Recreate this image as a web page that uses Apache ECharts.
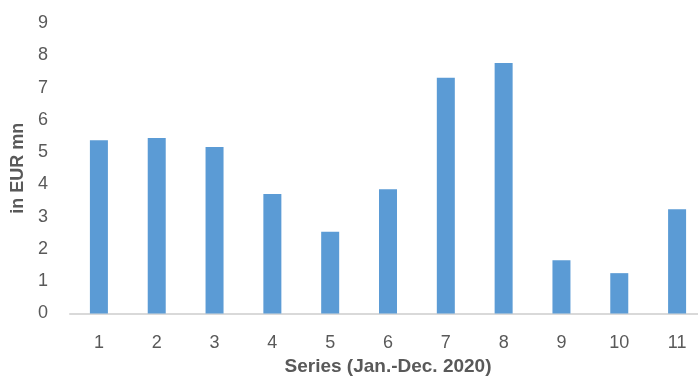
<!DOCTYPE html>
<html>
<head>
<meta charset="utf-8">
<script src="https://cdn.jsdelivr.net/npm/echarts@6/dist/echarts.min.js"></script>
<style>
  html, body { margin: 0; padding: 0; background: #fff; }
  #chart { width: 698px; height: 376px; }
</style>
</head>
<body>
<div id="chart"></div>
<script>
// Monthly series, in EUR mn
const categories = ['1', '2', '3', '4', '5', '6', '7', '8', '9', '10', '11'];
const values = [5.37, 5.44, 5.16, 3.70, 2.53, 3.85, 7.30, 7.76, 1.65, 1.25, 3.23];
const yTicks = { min: 0, max: 9, interval: 1 };

const font = '"Liberation Sans Narrow", "Arial Narrow", "Liberation Sans", Arial, sans-serif';
const textGray = '#595959';

const chart = echarts.init(document.getElementById('chart'), null, { renderer: 'canvas' });
chart.setOption({
  animation: false,
  grid: {
    left: 70, top: 23, width: 636, height: 290.5,
    containLabel: false,
    outerBoundsMode: 'none'
  },
  xAxis: {
    type: 'category',
    data: categories,
    boundaryGap: true,
    name: 'Series (Jan.-Dec. 2020)',
    nameLocation: 'middle',
    nameGap: 43,
    nameTextStyle: { fontFamily: font, fontSize: 19, fontWeight: 'bold', color: textGray },
    axisLine: { show: true, lineStyle: { color: '#d9d9d9', width: 2 } },
    axisTick: { show: false },
    axisLabel: { fontFamily: font, fontSize: 18, color: textGray, margin: 21 }
  },
  yAxis: {
    type: 'value',
    min: yTicks.min,
    max: yTicks.max,
    interval: yTicks.interval,
    name: 'in EUR mn',
    nameLocation: 'middle',
    nameGap: 43,
    nameRotate: 90,
    nameTextStyle: { fontFamily: font, fontSize: 18, fontWeight: 'bold', color: textGray },
    axisLine: { show: false },
    axisTick: { show: false },
    splitLine: { show: false },
    axisLabel: { fontFamily: font, fontSize: 18, color: textGray, margin: 22 }
  },
  series: [{
    type: 'bar',
    data: values,
    barWidth: 18,
    itemStyle: { color: '#5b9bd5' }
  }]
});
</script>
</body>
</html>
